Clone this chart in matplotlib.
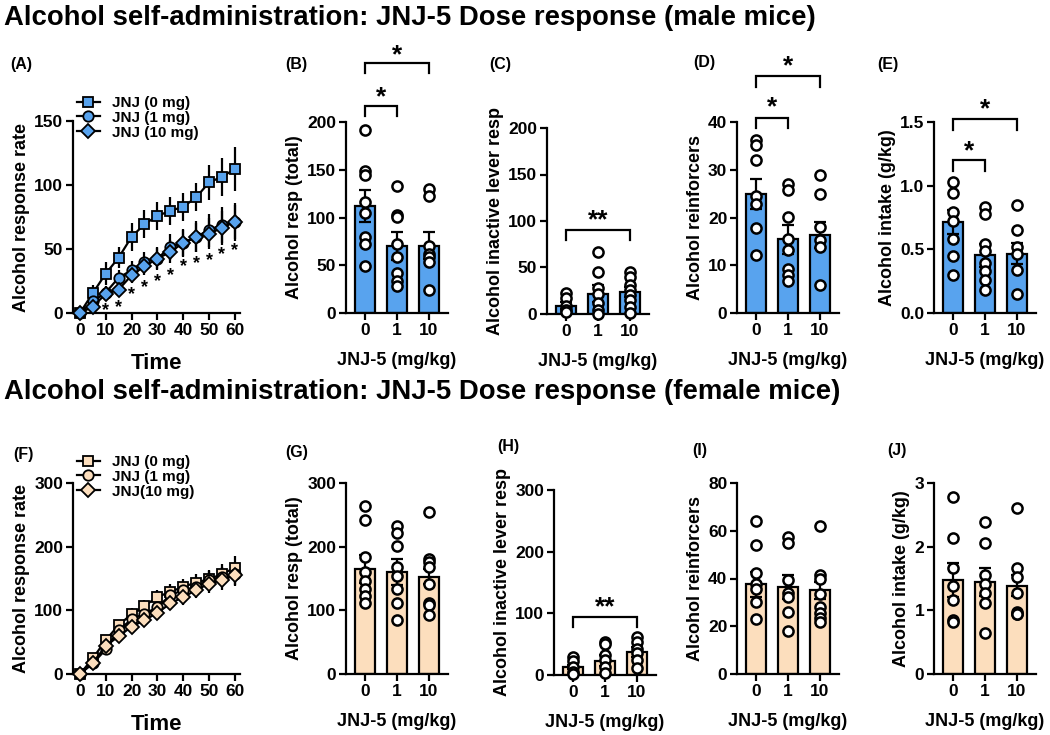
import matplotlib
matplotlib.use("Agg")
import matplotlib.pyplot as plt
import matplotlib.transforms as mtransforms
import numpy as np
from matplotlib.lines import Line2D

plt.rcParams['font.family'] = ['Liberation Sans', 'DejaVu Sans']
plt.rcParams['font.weight'] = 'bold'
plt.rcParams['axes.labelweight'] = 'bold'

# ---------------- data ----------------
time = [0, 5, 10, 15, 20, 25, 30, 35, 40, 45, 50, 55, 60]
doses = ["0", "1", "10"]
legend_male = ["JNJ (0 mg)", "JNJ (1 mg)", "JNJ (10 mg)"]
legend_female = ["JNJ (0 mg)", "JNJ (1 mg)", "JNJ(10 mg)"]

# Panel A (male time course)
a_0mg = [0, 15.6, 30.8, 43.3, 59.5, 69.4, 75.9, 79.8, 83, 90.3, 102, 106.4, 112.4]
a_0mg_sem = [0, 6, 9, 8, 11, 11, 11, 11, 11, 11, 14, 15, 17]
a_1mg = [0, 9, 16, 27.6, 33.4, 40, 42.5, 51.6, 55, 59.5, 64.7, 69, 71.2]
a_1mg_sem = [0, 3, 5, 6, 7, 8, 9, 10, 11, 12, 13, 14, 15]
a_10mg = [0, 5, 15, 18.3, 29.5, 36.5, 42.5, 47.7, 54.8, 59, 62, 66.5, 71.2]
a_10mg_sem = [0, 2, 4, 5, 6, 7, 8, 9, 10, 11, 12, 13, 13]
a_star_time = [10, 15, 20, 25, 30, 35, 40, 45, 50, 55, 60]
a_star_y = [4.7, 7.3, 17.7, 23, 27.7, 32, 39, 41.7, 44.4, 49, 52]

# Panel B
b_mean = [112, 70.5, 70.5]
b_sem = [17, 14.5, 14]
b_dots = [[192, 149, 144, 116, 105, 80, 72, 49],
          [133, 103, 100.5, 72, 59, 42, 34, 28],
          [129.5, 122, 70, 62, 59, 53, 24]]
# Panel C
c_mean = [9, 22, 24]
c_sem = [4, 9, 5.5]
c_dots = [[23, 17, 9, 4, 2],
          [66.4, 45.6, 27.6, 22, 11.5, 4, 0],
          [45, 39.5, 31, 26, 20.5, 15, 8, 1.5]]
# Panel D
d_mean = [24.9, 15.4, 16.3]
d_sem = [3.2, 3.0, 2.7]
d_dots = [[36.3, 35.1, 32.1, 24.6, 22.9, 17.9, 12.1],
          [27.1, 25.7, 20.1, 15.4, 13.1, 9.3, 7.9, 6.8],
          [28.8, 25, 18, 15.2, 13.8, 5.8]]
# Panel E
e_mean = [0.715, 0.453, 0.466]
e_sem = [0.095, 0.092, 0.085]
e_dots = [[1.03, 0.94, 0.79, 0.72, 0.58, 0.45, 0.30],
          [0.83, 0.78, 0.545, 0.49, 0.39, 0.33, 0.257, 0.178],
          [0.85, 0.65, 0.52, 0.466, 0.34, 0.15]]

# Panel F (female time course)
f_0mg = [0, 24.6, 53.3, 76.8, 94, 107, 121, 129, 137, 143.7, 149, 156.8, 166.8]
f_0mg_sem = [0, 4, 6, 8, 9, 10, 11, 12, 13, 13, 15, 16, 19]
f_1mg = [0, 16.7, 38.7, 69, 85.7, 95, 104.5, 124, 131.7, 137, 147.4, 152.6, 156.8]
f_1mg_sem = [0, 3, 5, 7, 8, 9, 10, 11, 12, 13, 14, 15, 17]
f_10mg = [0, 17.8, 44, 59.6, 74.2, 84.7, 96, 110.8, 121, 131.7, 142, 147.4, 155]
f_10mg_sem = [0, 3, 5, 6, 8, 8, 9, 11, 12, 13, 14, 15, 17]

# Panel G
g_mean = [164.6, 160.5, 152.6]
g_sem = [22, 20.5, 12]
g_dots = [[263.5, 242.5, 184, 160.5, 146, 134, 122, 112],
          [232, 222, 201.8, 168, 153.7, 132.8, 112, 84.7],
          [254.6, 181, 176, 168, 141, 112, 109, 92.5]]
# Panel H
h_mean = [13.5, 23.2, 37.8]
h_sem = [3.5, 8.8, 8.2]
h_dots = [[29.7, 23, 13.5, 5.4, 1.6],
          [54, 50, 32.4, 24.3, 13.5, 2.7],
          [62, 54, 41.6, 35, 24.3, 10.8]]
# Panel I
i_mean = [37.5, 36.5, 35.1]
i_sem = [5.3, 4.9, 3.5]
i_dots = [[64.1, 53.9, 42.1, 37.6, 35.4, 30.2, 23],
          [57.4, 55, 39.3, 34, 32.3, 26, 18.1],
          [61.9, 41.4, 39.6, 33.4, 27.9, 25.6, 23.3, 21.9]]
# Panel J
j_mean = [1.474, 1.44, 1.385]
j_sem = [0.27, 0.22, 0.165]
j_dots = [[2.78, 2.14, 1.66, 1.385, 1.17, 0.85, 0.82],
          [2.39, 2.06, 1.55, 1.42, 1.275, 1.12, 0.64],
          [2.61, 1.66, 1.53, 1.275, 0.98, 0.95, 0.94]]

MALE = "#58A3EE"
FEMALE = "#FCDEBD"
LW = 1.6
TICK_FS = 12.5
LABEL_FS = 13

fig = plt.figure(figsize=(10.5, 7.35), dpi=100)
W, H = 1050.0, 735.0


def add_ax(left, top, right, bottom):
    return fig.add_axes([left / W, 1 - bottom / H, (right - left) / W, (bottom - top) / H])


def style(ax):
    for s in ['top', 'right']:
        ax.spines[s].set_visible(False)
    for s in ['left', 'bottom']:
        ax.spines[s].set_linewidth(LW)
    ax.tick_params(width=LW, length=5, labelsize=TICK_FS, pad=2)
    for lab in ax.get_xticklabels() + ax.get_yticklabels():
        lab.set_fontweight('bold')


def bar_panel(ax, mean, sem, dots, color, ylim, yticks, ylabel, fmt=None):
    x = np.arange(len(mean))
    ax.bar(x, mean, width=0.62, color=color, edgecolor='black', linewidth=LW, zorder=2)
    ax.errorbar(x, mean, yerr=sem, fmt='none', ecolor='black', elinewidth=LW,
                capsize=4, capthick=LW, zorder=3)
    for i, d in enumerate(dots):
        ax.plot([x[i]] * len(d), d, 'o', mfc='white', mec='black', mew=1.8, ms=7.3,
                zorder=4, clip_on=False)
    ax.set_xlim(-0.6, 2.6)
    ax.set_ylim(*ylim)
    ax.set_yticks(yticks)
    if fmt:
        ax.set_yticklabels([fmt.format(v) for v in yticks])
    ax.set_xticks(x)
    ax.set_xticklabels(doses)
    ax.set_ylabel(ylabel, fontsize=LABEL_FS, fontweight='bold', labelpad=3)
    ax.set_xlabel("JNJ-5 (mg/kg)", fontsize=LABEL_FS, fontweight='bold', labelpad=10)
    style(ax)


def bracket(ax, x0, x1, y, drop, text, ystar):
    ax.plot([x0, x0, x1, x1], [y - drop, y, y, y - drop], color='black', lw=LW,
            clip_on=False, solid_joinstyle='miter')
    tr = mtransforms.offset_copy(ax.transData, fig=fig, x=0, y=-4, units='dots')
    ax.text((x0 + x1) / 2, ystar, text, ha='center', va='center', fontsize=19,
            fontweight='bold', clip_on=False, transform=tr)


def line_panel(ax, series, sems, markers, color, ylim, yticks, labels, leg_anchor):
    handles = []
    for s, e, m in zip(series, sems, markers):
        ax.errorbar(time, s, yerr=e, fmt='none', ecolor='black', elinewidth=LW, zorder=2)
        ms = 7 if m == 'D' else 7.5
        ax.plot(time, s, '-', color='black', lw=LW, marker=m, mfc=color, mec='black',
                mew=1.3, ms=ms, zorder=3, clip_on=False)
        handles.append(Line2D([], [], color='black', lw=LW, marker=m, mfc=color,
                              mec='black', mew=1.3, ms=ms))
    ax.set_xlim(-2.7, 62)
    ax.set_ylim(*ylim)
    ax.set_yticks(yticks)
    ax.set_xticks(range(0, 61, 10))
    ax.set_ylabel("Alcohol response rate", fontsize=LABEL_FS, fontweight='bold', labelpad=3)
    ax.set_xlabel("Time", fontsize=16, fontweight='bold', labelpad=11)
    style(ax)
    fig.legend(handles, labels, loc='upper left', bbox_to_anchor=leg_anchor,
               frameon=False, prop={'size': 11, 'weight': 'bold'}, handlelength=1.5,
               handletextpad=0.8, labelspacing=0.05, borderpad=0, borderaxespad=0)


# ---------------- titles ----------------
fig.text(4 / W, 1 - 18 / H, "Alcohol self-administration: JNJ-5 Dose response (male mice)",
         fontsize=19.8, fontweight='bold', va='center', ha='left')
fig.text(4 / W, 1 - 392 / H, "Alcohol self-administration: JNJ-5 Dose response (female mice)",
         fontsize=19.8, fontweight='bold', va='center', ha='left')

labels_pos = {"(A)": (10, 64), "(B)": (285, 64), "(C)": (489, 64), "(D)": (693, 63), "(E)": (877, 64),
              "(F)": (13, 455), "(G)": (285, 452), "(H)": (497, 447), "(I)": (692, 450), "(J)": (887, 450)}
for t, (px, py) in labels_pos.items():
    fig.text(px / W, 1 - py / H, t, fontsize=11.5, fontweight='bold', va='center', ha='left')

# ---------------- Row 1 ----------------
axA = add_ax(73, 121, 240, 313)
line_panel(axA, [a_0mg, a_1mg, a_10mg], [a_0mg_sem, a_1mg_sem, a_10mg_sem], ['s', 'o', 'D'],
           MALE, (0, 150), [0, 50, 100, 150], legend_male, (77 / W, 1 - 96 / H))
trA = mtransforms.offset_copy(axA.transData, fig=fig, x=0, y=-4, units='dots')
for t, y in zip(a_star_time, a_star_y):
    axA.text(t, y, "*", ha='center', va='center', fontsize=13, fontweight='bold', transform=trA)

axB = add_ax(346, 122, 448, 313)
bar_panel(axB, b_mean, b_sem, b_dots, MALE, (0, 200), [0, 50, 100, 150, 200], "Alcohol resp (total)")
bracket(axB, 0, 2, 262, 11, "*", 274)
bracket(axB, 0, 1, 217, 11, "*", 230)

axC = add_ax(547, 128, 649, 314)
bar_panel(axC, c_mean, c_sem, c_dots, MALE, (0, 200), [0, 50, 100, 150, 200], "Alcohol inactive lever resp")
bracket(axC, 0, 2, 90, 10.5, "**", 105)

axD = add_ax(737, 122, 839, 313)
bar_panel(axD, d_mean, d_sem, d_dots, MALE, (0, 40), [0, 10, 20, 30, 40], "Alcohol reinforcers")
bracket(axD, 0, 2, 49.6, 2.3, "*", 52.6)
bracket(axD, 0, 1, 40.8, 2.1, "*", 43.9)

axE = add_ax(934, 122, 1036, 313)
bar_panel(axE, e_mean, e_sem, e_dots, MALE, (0, 1.5), [0, 0.5, 1.0, 1.5], "Alcohol intake (g/kg)", fmt="{:.1f}")
bracket(axE, 0, 2, 1.524, 0.087, "*", 1.63)
bracket(axE, 0, 1, 1.2, 0.085, "*", 1.30)

# ---------------- Row 2 ----------------
axF = add_ax(73, 483, 240, 674)
line_panel(axF, [f_0mg, f_1mg, f_10mg], [f_0mg_sem, f_1mg_sem, f_10mg_sem], ['s', 'o', 'D'],
           FEMALE, (0, 300), [0, 100, 200, 300], legend_female, (77 / W, 1 - 455 / H))

axG = add_ax(346, 483, 448, 674)
bar_panel(axG, g_mean, g_sem, g_dots, FEMALE, (0, 300), [0, 100, 200, 300], "Alcohol resp (total)")

axH = add_ax(554, 490, 656, 675)
bar_panel(axH, h_mean, h_sem, h_dots, FEMALE, (0, 300), [0, 100, 200, 300], "Alcohol inactive lever resp")
bracket(axH, 0, 2, 94, 16, "**", 117)

axI = add_ax(737, 483, 839, 674)
bar_panel(axI, i_mean, i_sem, i_dots, FEMALE, (0, 80), [0, 20, 40, 60, 80], "Alcohol reinforcers")

axJ = add_ax(934, 483, 1036, 674)
bar_panel(axJ, j_mean, j_sem, j_dots, FEMALE, (0, 3), [0, 1, 2, 3], "Alcohol intake (g/kg)")

fig.savefig("out.png", dpi=100)
